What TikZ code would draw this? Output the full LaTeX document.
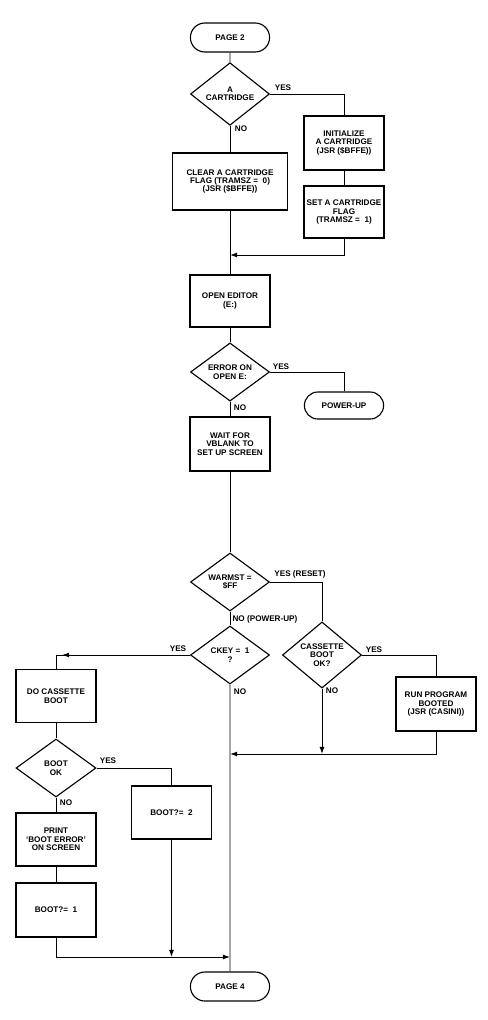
\documentclass[tikz,border=0pt]{standalone}
\usepackage{fontspec}
\setmainfont{Liberation Sans}
\usetikzlibrary{shapes.geometric,shapes.misc,arrows.meta}
\begin{document}
\begin{tikzpicture}[x=0.025cm, y=-0.025cm,
    every node/.style={font=\fontsize{5.8}{6}\selectfont\bfseries, align=center},
    terminal/.style ={rounded rectangle, draw, line width=0.8pt, minimum width=2.05cm, minimum height=0.725cm, inner sep=1pt},
    process/.style ={rectangle, draw, line width=0.8pt, minimum width=2cm, minimum height=1.35cm, inner sep=1pt},
    decision/.style ={diamond, draw, line width=0.8pt, minimum width=1.975cm, minimum height=1.45cm, inner sep=0pt},
    branch/.style ={inner sep=0pt},
    flow/.style ={line width=0.7pt},
    arr/.style ={flow, -{Latex[length=5pt, width=3.5pt]}}]
   \useasboundingbox (0,0) rectangle (487,1020);
   % main column
   \node[terminal] (page2) at (230,37.5) {PAGE 2};
   \node[decision] (cart) at (230,94) {A\\CARTRIDGE};
   \node[process, minimum width=2.875cm, minimum height=1.425cm] (clear) at (230,181.5) {CLEAR A CARTRIDGE\\FLAG (TRAMSZ =\ \ 0)\\(JSR (\$BFFE))};
   \node[process] (init) at (344,143) {INITIALIZE\\A CARTRIDGE\\(JSR (\$BFFE))};
   \node[process, minimum height=1.3cm] (setflag) at (344,212) {SET A CARTRIDGE\\FLAG\\(TRAMSZ =\ \ 1)};
   \coordinate (join1) at (230,255);
   \node[process, minimum height=1.3cm] (editor) at (230,301) {OPEN EDITOR\\(E:)};
   \node[decision] (err) at (230,372) {ERROR ON\\OPEN E:};
   \node[terminal, minimum height=0.675cm] (powerup) at (344,405.5) {POWER-UP};
   \node[process] (wait) at (230,444) {WAIT FOR\\VBLANK TO\\SET UP SCREEN};
   \node[decision] (warm) at (230,582) {WARMST =\\\$FF};
   \node[decision] (ckey) at (230,655) {CKEY =\ \ 1\\?};
   \node[decision] (casok) at (322,655) {CASSETTE\\BOOT\\OK?};
   \node[process] (run) at (436,704) {RUN PROGRAM\\BOOTED\\(JSR (CASINI))};
   \coordinate (join2) at (230,754);
   \coordinate (join2b) at (322,754);
   % cassette boot column
   \node[process, minimum height=1.325cm] (docas) at (56,696) {DO CASSETTE\\BOOT};
   \coordinate (ckeytip) at (62,655);
   \node[decision, minimum width=2cm] (bootok) at (56,768) {BOOT\\OK};
   \node[process, minimum height=1.325cm] (print) at (56,839.5) {PRINT\\`BOOT ERROR'\\ON SCREEN};
   \node[process] (boot1) at (56,910) {BOOT?=\ \ 1};
   \node[process, minimum height=1.325cm] (boot2) at (171.5,812.5) {BOOT?=\ \ 2};
   \coordinate (join3) at (230,957);
   \coordinate (join3b) at (171.5,957);
   \node[terminal] (page4) at (230,986.5) {PAGE 4};
   % branch labels
   \node[branch] (cartyes) at (283,88) {YES};
   \node[branch] (cartno) at (241,129) {NO};
   \node[branch] (erryes) at (281,367) {YES};
   \node[branch] (errno) at (240,408) {NO};
   \node[branch] (warmyes) at (300,574) {YES (RESET)};
   \node[branch] (warmno) at (265,619) {NO (POWER-UP)};
   \node[branch] (ckeyyes) at (178,649) {YES};
   \node[branch] (ckeyno) at (240,692) {NO};
   \node[branch] (casokyes) at (374,650) {YES};
   \node[branch] (casokno) at (332,691) {NO};
   \node[branch] (bootokyes) at (108,761) {YES};
   \node[branch] (bootokno) at (66,803) {NO};
   % connectors
   \draw[flow] (page2) to (cart);
   \draw[flow] (cart) to (clear);
   \draw[flow] (cart.east) -| (init.north);
   \draw[flow] (init) to (setflag);
   \draw[arr] (setflag.south) |- (join1);
   \draw[flow] (clear) to (editor);
   \draw[flow] (editor) to (err);
   \draw[flow] (err.east) -| (powerup.north);
   \draw[flow] (err) to (wait);
   \draw[flow] (wait) to (warm);
   \draw[flow] (warm) to (ckey);
   \draw[flow] (warm.east) -| (casok.north);
   \draw[flow] (ckey.west) -| (docas.north);
   \draw[arr] (ckey.west) to (ckeytip);
   \draw[flow] (casok.east) -| (run.north);
   \draw[arr] (casok.south) to (join2b);
   \draw[arr] (run.south) |- (join2);
   \draw[flow] (docas) to (bootok);
   \draw[flow] (bootok) to (print);
   \draw[flow] (print) to (boot1);
   \draw[flow] (bootok.east) -| (boot2.north);
   \draw[arr] (boot2.south) to (join3b);
   \draw[arr] (boot1.south) |- (join3);
   \draw[flow] (ckey) to (page4);
\end{tikzpicture}
\end{document}
